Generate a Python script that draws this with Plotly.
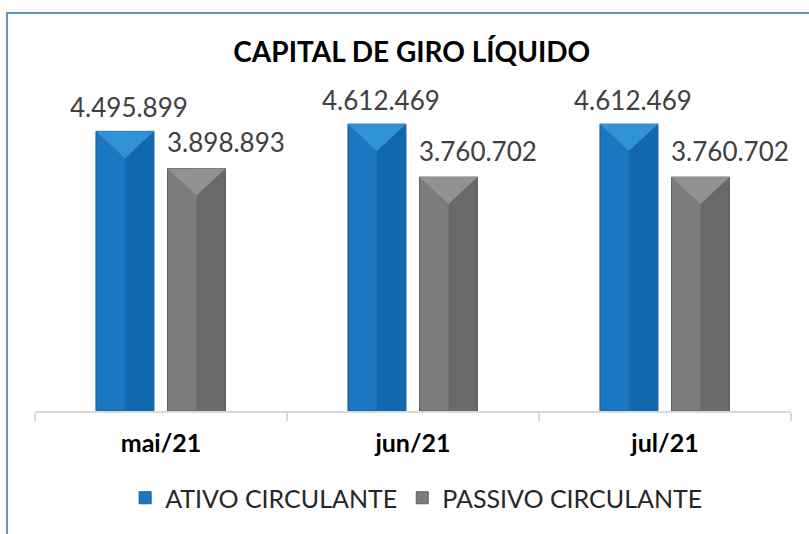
import plotly.graph_objects as go

categories = ["mai/21", "jun/21", "jul/21"]
ativo = [4495899, 4612469, 4612469]
passivo = [3898893, 3760702, 3760702]
series_names = ["ATIVO CIRCULANTE", "PASSIVO CIRCULANTE"]
title_text = "CAPITAL DE GIRO LÍQUIDO"

def fmt(v):
    return f"{v:,}".replace(",", ".")

FONT = "Century Gothic, Lato, sans-serif"

W, H = 809, 534
ML, MR, MT, MB = 35, 18, 100, 123
YMAX = 5000000
plot_h = H - MT - MB
xpos = list(range(len(categories)))

BW = 0.23          # bar width (category units)
OFF_A = -0.258     # left edge of ativo bar relative to category centre
OFF_P = 0.026      # left edge of passivo bar
BEVEL = 27 * YMAX / plot_h  # bevel depth in data units

styles = {
    "a": dict(main="#1b78c0", dark="#1268ac", top="#3193d6", line="#0f5c99"),
    "p": dict(main="#7c7c7e", dark="#69696b", top="#929294", line="#5c5c5e"),
}

fig = go.Figure()

def add_series(vals, name, off, st):
    fig.add_trace(go.Bar(x=xpos, y=vals, name=name, width=BW, offset=off,
                         marker=dict(color=st["main"], line=dict(color=st["line"], width=1))))
    fig.add_trace(go.Bar(x=xpos, y=vals, width=BW / 2, offset=off + BW / 2,
                         showlegend=False, hoverinfo="skip",
                         marker=dict(color=st["dark"], line=dict(width=0))))
    for xi, v in zip(xpos, vals):
        x0, x1 = xi + off, xi + off + BW
        fig.add_trace(go.Scatter(x=[x0, x1, (x0 + x1) / 2, x0], y=[v, v, v - BEVEL, v],
                                 mode="lines", fill="toself", fillcolor=st["top"],
                                 line=dict(width=0), showlegend=False, hoverinfo="skip"))

add_series(ativo, series_names[0], OFF_A, styles["a"])
add_series(passivo, series_names[1], OFF_P, styles["p"])

annotations = []
for xi, a, p in zip(xpos, ativo, passivo):
    annotations.append(dict(x=xi, y=a, xref="x", yref="y", text=fmt(a), showarrow=False,
                            xshift=-32, yshift=24, yanchor="middle",
                            font=dict(family=FONT, size=26, color="#404040")))
    annotations.append(dict(x=xi, y=p, xref="x", yref="y", text=fmt(p), showarrow=False,
                            xshift=65, yshift=26, yanchor="middle",
                            font=dict(family=FONT, size=26, color="#404040")))

fig.update_layout(
    width=W, height=H,
    margin=dict(l=ML, r=MR, t=MT, b=MB, autoexpand=False),
    paper_bgcolor="white", plot_bgcolor="white",
    barmode="overlay",
    title=dict(text="<b>" + title_text + "</b>", x=0.509, xref="container", xanchor="center",
               y=1 - 52 / H, yref="container", yanchor="middle",
               font=dict(family=FONT, size=28, color="#000000")),
    xaxis=dict(range=[-0.5, len(categories) - 0.5], tickvals=xpos, ticktext=categories,
               showline=True, linecolor="#d9d9d9", linewidth=2,
               ticks="", ticklabelstandoff=9, automargin=False, zeroline=False,
               minor=dict(ticks="outside", tick0=-0.5, dtick=1, ticklen=8,
                          tickcolor="#d9d9d9", tickwidth=2, showgrid=False),
               tickfont=dict(family=FONT, size=25, color="#000000", weight="bold"),
               showgrid=False, fixedrange=True),
    yaxis=dict(range=[0, YMAX], visible=False, showgrid=False, automargin=False),
    legend=dict(orientation="h", xref="container", yref="container",
                x=0.515, xanchor="center", y=1 - 498 / H, yanchor="middle",
                font=dict(family=FONT, size=25, color="#262626"),
                itemwidth=30, tracegroupgap=0),
    annotations=annotations,
    showlegend=True,
)
fig.add_shape(type="rect", xref="paper", yref="paper",
              x0=-28 / (W - ML - MR), x1=1.2, y0=-1.0, y1=1 + (MT - 13) / plot_h,
              line=dict(color="#2f75b5", width=1.5), fillcolor="rgba(0,0,0,0)", layer="below")

fig.write_html("out.html", config={"displayModeBar": False},
               post_script="document.body.style.margin='0';document.body.style.padding='0';")
